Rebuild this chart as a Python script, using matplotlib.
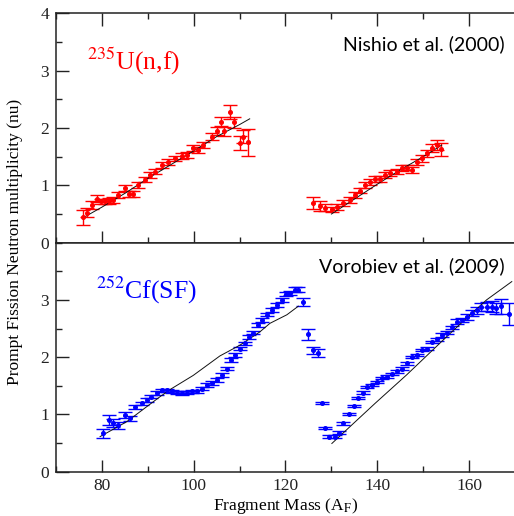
import matplotlib
matplotlib.use("Agg")
import matplotlib.pyplot as plt
from matplotlib.ticker import MultipleLocator
import numpy as np

plt.rcParams["font.family"] = ["Liberation Serif", "DejaVu Serif"]
plt.rcParams["mathtext.fontset"] = "stix"

# 235U(n,f) - light fragments (mass, nu, error)
u_light_mass = [75.8, 76.7, 77.8, 78.9, 79.7, 80.6, 81.5, 82.5, 83.6, 85.0, 85.8, 86.7,
                87.9, 89.4, 90.5, 91.6, 93.0, 94.5, 95.9, 97.4, 98.5, 99.9, 101.0, 102.1,
                103.9, 105.0, 105.9, 106.7, 107.9, 108.7, 110.1, 110.8, 111.9]
u_light_nu = [0.44, 0.52, 0.66, 0.77, 0.72, 0.72, 0.73, 0.74, 0.83, 0.95, 0.85, 0.85,
              1.00, 1.10, 1.18, 1.24, 1.35, 1.41, 1.47, 1.51, 1.53, 1.65, 1.62, 1.70,
              1.85, 1.94, 2.11, 1.94, 2.28, 2.10, 1.74, 1.85, 1.75]
u_light_err = [0.13, 0.08, 0.07, 0.06, 0.05, 0.05, 0.05, 0.05, 0.05, 0.05, 0.05, 0.05,
               0.05, 0.05, 0.05, 0.05, 0.05, 0.05, 0.05, 0.05, 0.05, 0.05, 0.05, 0.05,
               0.06, 0.07, 0.08, 0.08, 0.12, 0.10, 0.12, 0.12, 0.23]

# 235U(n,f) - heavy fragments
u_heavy_mass = [126.1, 127.5, 128.6, 130.1, 131.2, 132.6, 134.1, 135.1, 136.2, 137.3,
                138.4, 139.5, 140.6, 141.7, 142.8, 144.2, 145.3, 146.4, 147.5, 148.6,
                149.7, 150.8, 151.9, 153.0, 153.8]
u_heavy_nu = [0.69, 0.64, 0.61, 0.58, 0.62, 0.69, 0.74, 0.83, 0.91, 1.01,
              1.06, 1.11, 1.11, 1.18, 1.21, 1.24, 1.30, 1.31, 1.27, 1.41,
              1.47, 1.56, 1.65, 1.70, 1.63]
u_heavy_err = [0.10, 0.08, 0.06, 0.05, 0.05, 0.05, 0.05, 0.05, 0.05, 0.05,
               0.05, 0.05, 0.05, 0.05, 0.05, 0.05, 0.05, 0.05, 0.05, 0.05,
               0.06, 0.06, 0.07, 0.09, 0.11]

# 235U model curves
u_model_light_mass = [75.8, 80, 85, 90, 95, 100, 105, 110, 112.2]
u_model_light_nu = [0.43, 0.62, 0.86, 1.12, 1.36, 1.60, 1.85, 2.06, 2.16]
u_model_heavy_mass = [130.0, 135, 140, 145, 150, 154.0]
u_model_heavy_nu = [0.50, 0.76, 1.02, 1.27, 1.50, 1.70]

# 252Cf(SF) data
cf_mass = [80.2, 81.6, 82.5, 83.6, 85.0, 86.1, 87.2, 88.7, 89.9, 90.8, 91.9, 93.0,
           94.1, 95.2, 96.3, 97.4, 98.5, 99.6, 100.7, 101.7, 102.8, 103.9, 105.0, 106.1,
           107.2, 108.1, 109.0, 110.1, 111.2, 112.1, 113.0, 114.1, 114.8, 115.9, 117.0,
           118.1, 119.2, 120.1, 121.0, 122.1, 122.8, 123.9, 124.8, 126.1, 127.0,
           128.0, 128.6, 129.5, 130.7, 131.7, 132.6, 133.9, 134.9, 135.9, 136.9, 137.7,
           138.8, 139.9, 141.0, 142.1, 143.1, 144.2, 145.3, 146.4, 147.5, 148.6, 149.7,
           150.8, 151.9, 152.9, 154.0, 155.1, 156.2, 157.3, 158.4, 159.5, 160.6, 161.7,
           162.7, 163.8, 164.9, 165.9, 166.9, 168.6]
cf_nu = [0.67, 0.90, 0.84, 0.81, 0.99, 0.93, 1.13, 1.19, 1.25, 1.31, 1.37, 1.42,
         1.42, 1.40, 1.38, 1.37, 1.38, 1.40, 1.40, 1.45, 1.51, 1.55, 1.60, 1.69,
         1.80, 1.95, 2.04, 2.15, 2.24, 2.35, 2.43, 2.56, 2.65, 2.74, 2.82,
         2.91, 3.00, 3.10, 3.12, 3.18, 3.18, 2.97, 2.40, 2.12, 2.07,
         1.20, 0.76, 0.61, 0.61, 0.68, 0.84, 1.00, 1.15, 1.28, 1.38, 1.48,
         1.51, 1.57, 1.63, 1.66, 1.70, 1.75, 1.80, 1.89, 2.00, 2.04, 2.12,
         2.15, 2.27, 2.31, 2.39, 2.43, 2.52, 2.62, 2.65, 2.70, 2.77, 2.82,
         2.88, 2.88, 2.88, 2.85, 2.89, 2.75]
cf_err = [0.08, 0.08, 0.07, 0.06, 0.05, 0.04, 0.04, 0.03, 0.03, 0.03, 0.03, 0.03,
          0.03, 0.03, 0.03, 0.03, 0.03, 0.03, 0.03, 0.03, 0.03, 0.03, 0.03, 0.03,
          0.03, 0.03, 0.03, 0.03, 0.03, 0.03, 0.03, 0.03, 0.03, 0.03, 0.03,
          0.03, 0.03, 0.03, 0.03, 0.04, 0.05, 0.07, 0.10, 0.06, 0.07,
          0.02, 0.02, 0.02, 0.02, 0.03, 0.02, 0.02, 0.02, 0.02, 0.02, 0.02,
          0.02, 0.02, 0.02, 0.02, 0.02, 0.02, 0.02, 0.02, 0.02, 0.02, 0.02,
          0.02, 0.02, 0.02, 0.03, 0.03, 0.03, 0.04, 0.04, 0.05, 0.05, 0.06,
          0.07, 0.08, 0.10, 0.10, 0.13, 0.19]

# 252Cf model curves
cf_model_light_mass = [79.6, 85.4, 92.7, 95.2, 99.9, 105.7, 110.1, 114.4, 116.6, 120.3, 122.8]
cf_model_light_nu = [0.61, 0.87, 1.31, 1.45, 1.68, 2.02, 2.21, 2.44, 2.59, 2.74, 2.89]
cf_model_heavy_mass = [130.1, 134.8, 139.5, 146.4, 156.6, 163.8, 169.3]
cf_model_heavy_nu = [0.49, 0.84, 1.19, 1.69, 2.47, 3.00, 3.32]

W, H = 514, 516
fig = plt.figure(figsize=(W / 100, H / 100), dpi=100)
left, right = 56 / W, 515 / W
y_top, y_mid, y_bot = 1 - 13.3 / H, 1 - 242.7 / H, 1 - 471.5 / H
ax1 = fig.add_axes([left, y_mid, right - left, y_top - y_mid])
ax2 = fig.add_axes([left, y_bot, right - left, y_mid - y_bot])

tick_font = 12.5
for ax in (ax1, ax2):
    ax.set_xlim(70, 170)
    ax.set_ylim(0, 4)
    ax.xaxis.set_major_locator(MultipleLocator(20))
    ax.xaxis.set_minor_locator(MultipleLocator(10))
    ax.yaxis.set_major_locator(MultipleLocator(1))
    ax.yaxis.set_minor_locator(MultipleLocator(0.5))
    ax.tick_params(which="both", direction="in", colors="#222222", width=1.0,
                   labelsize=tick_font, pad=5)
    ax.tick_params(which="major", length=9)
    ax.tick_params(which="minor", length=4.5)
    for s in ax.spines.values():
        s.set_linewidth(1.1)
        s.set_color("#222222")

ax1.tick_params(which="both", top=True, labelbottom=False)
ax2.set_yticks([0, 1, 2, 3])

eb_kw = dict(fmt="o", markersize=2.6, elinewidth=1.0, capsize=5, capthick=1.0, lw=0)

ax1.errorbar(u_light_mass, u_light_nu, yerr=u_light_err, color="#ff0000", **eb_kw)
ax1.errorbar(u_heavy_mass, u_heavy_nu, yerr=u_heavy_err, color="#ff0000", **eb_kw)
ax1.plot(u_model_light_mass, u_model_light_nu, color="#111111", lw=0.7)
ax1.plot(u_model_heavy_mass, u_model_heavy_nu, color="#111111", lw=0.7)

ax2.errorbar(cf_mass, cf_nu, yerr=cf_err, color="#0000ff", **eb_kw)
ax2.plot(cf_model_light_mass, cf_model_light_nu, color="#111111", lw=0.7)
ax2.plot(cf_model_heavy_mass, cf_model_heavy_nu, color="#111111", lw=0.7)

ax1.text(76.8, 3.01, r"$^{235}$U(n,f)", color="#ff0000", fontsize=18.5, va="baseline")
ax2.text(78.7, 3.02, r"$^{252}$Cf(SF)", color="#0000ff", fontsize=18.5, va="baseline")
ax1.text(167.8, 3.36, "Nishio et al. (2000)", family="Lato", fontsize=14,
         ha="right", va="baseline", color="black")
ax2.text(167.8, 3.49, "Vorobiev et al. (2009)", family="Lato", fontsize=14,
         ha="right", va="baseline", color="black")

ax2.set_xlabel(r"Fragment Mass (A$_\mathrm{F}$)", fontsize=12.5, labelpad=1)
fig.text(15.5 / W, (y_top + y_bot) / 2, "Prompt Fission Neutron multiplicity (nu)",
         rotation=90, ha="center", va="center", fontsize=12.5)

fig.savefig("out.png", dpi=100)
